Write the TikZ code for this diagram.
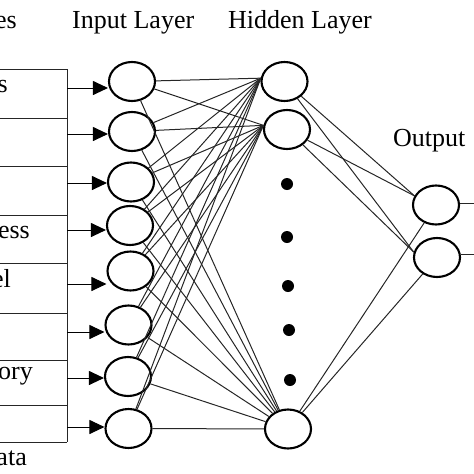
\documentclass[tikz,border=0pt]{standalone}
\usepackage{fontspec}
\setmainfont{Liberation Serif}
\usetikzlibrary{shapes.geometric,arrows.meta}
\begin{document}
\begin{tikzpicture}[x=1pt,y=-1pt,
  neuron/.style={draw=black,ellipse,line width=2.1pt,minimum width=46pt,minimum height=39pt,inner sep=0pt},
  link/.style={draw=black!85,line width=1pt},
  inarrow/.style={draw=black,line width=1pt,-{Triangle[length=15pt,width=14pt]}},
  gridline/.style={draw=black!85,line width=1pt},
  lbl/.style={inner sep=0pt,font=\fontsize{26}{30}\selectfont},
  dotnode/.style={circle,fill=black,minimum size=12pt,inner sep=0pt}]
\useasboundingbox (0,0) rectangle (474,474);
% titles
\node[lbl,anchor=base east] (tf) at (17,28) {es};
\node[lbl,anchor=base west] (ti) at (72,28) {Input Layer};
\node[lbl,anchor=base west] (th) at (228,28) {Hidden Layer};
\node[lbl,anchor=base west] (to) at (393,146) {Output};
% left table
\coordinate (ctop) at (67,69);
\coordinate (cbot) at (67,442);
\draw[gridline] (ctop) -- (cbot);
\foreach \y/\n in {69/r1,118/r2,166/r3,215/r4,263/r5,313/r6,360/r7,405/r8,442/r9}{
  \coordinate (\n l) at (0,\y);
  \coordinate (\n r) at (67,\y);
  \draw[gridline] (\n l) -- (\n r);
}
\node[lbl,anchor=base east] (l1) at (8,92) {s};
\node[lbl,anchor=base east] (l4) at (30,238) {ess};
\node[lbl,anchor=base east] (l5) at (11,287) {el};
\node[lbl,anchor=base east] (l7) at (33,379) {ory};
\node[lbl,anchor=base east] (l9) at (27,465) {ata};
% input nodes
\node[neuron] (i1) at (132,81.5) {};
\node[neuron] (i2) at (132,131.5) {};
\node[neuron] (i3) at (131,182) {};
\node[neuron] (i4) at (130,225.5) {};
\node[neuron] (i5) at (130.5,271) {};
\node[neuron] (i6) at (128.5,325) {};
\node[neuron] (i7) at (128,376.5) {};
\node[neuron] (i8) at (128.5,428.5) {};
% hidden nodes
\node[neuron] (h1) at (284.5,81.5) {};
\node[neuron] (h2) at (287,129.5) {};
\node[neuron] (hb) at (288,429) {};
\node[dotnode] (d1) at (287,184) {};
\node[dotnode] (d2) at (287,237) {};
\node[dotnode] (d3) at (288,286) {};
\node[dotnode] (d4) at (289,330) {};
\node[dotnode] (d5) at (290,380) {};
% output nodes
\node[neuron] (o1) at (436,205) {};
\node[neuron] (o2) at (437,257.5) {};
% input arrows
\foreach \k/\y in {1/88,2/134,3/183,4/230,5/284,6/332,7/378,8/427}{
  \coordinate (a\k) at (67,\y);
  \draw[inarrow] (a\k) -- (a\k -| i\k.west);
}
% input to hidden
\foreach \k in {1,...,8}{
  \draw[link] (i\k) -- (h1.172);
  \draw[link] (i\k) -- (h2.170);
  \draw[link] (i\k) -- (hb);
}
% hidden to output
\foreach \h in {h1,h2}{
  \draw[link] (\h) -- (o1.157);
  \draw[link] (\h) -- (o2.167);
}
\draw[link] (hb) -- (o1);
\draw[link] (hb) -- (o2);
% output lines
\coordinate (e1) at (474,203);
\coordinate (e2) at (474,254);
\draw[link] (o1.east |- e1) -- (e1);
\draw[link] (o2.east |- e2) -- (e2);
\end{tikzpicture}
\end{document}
